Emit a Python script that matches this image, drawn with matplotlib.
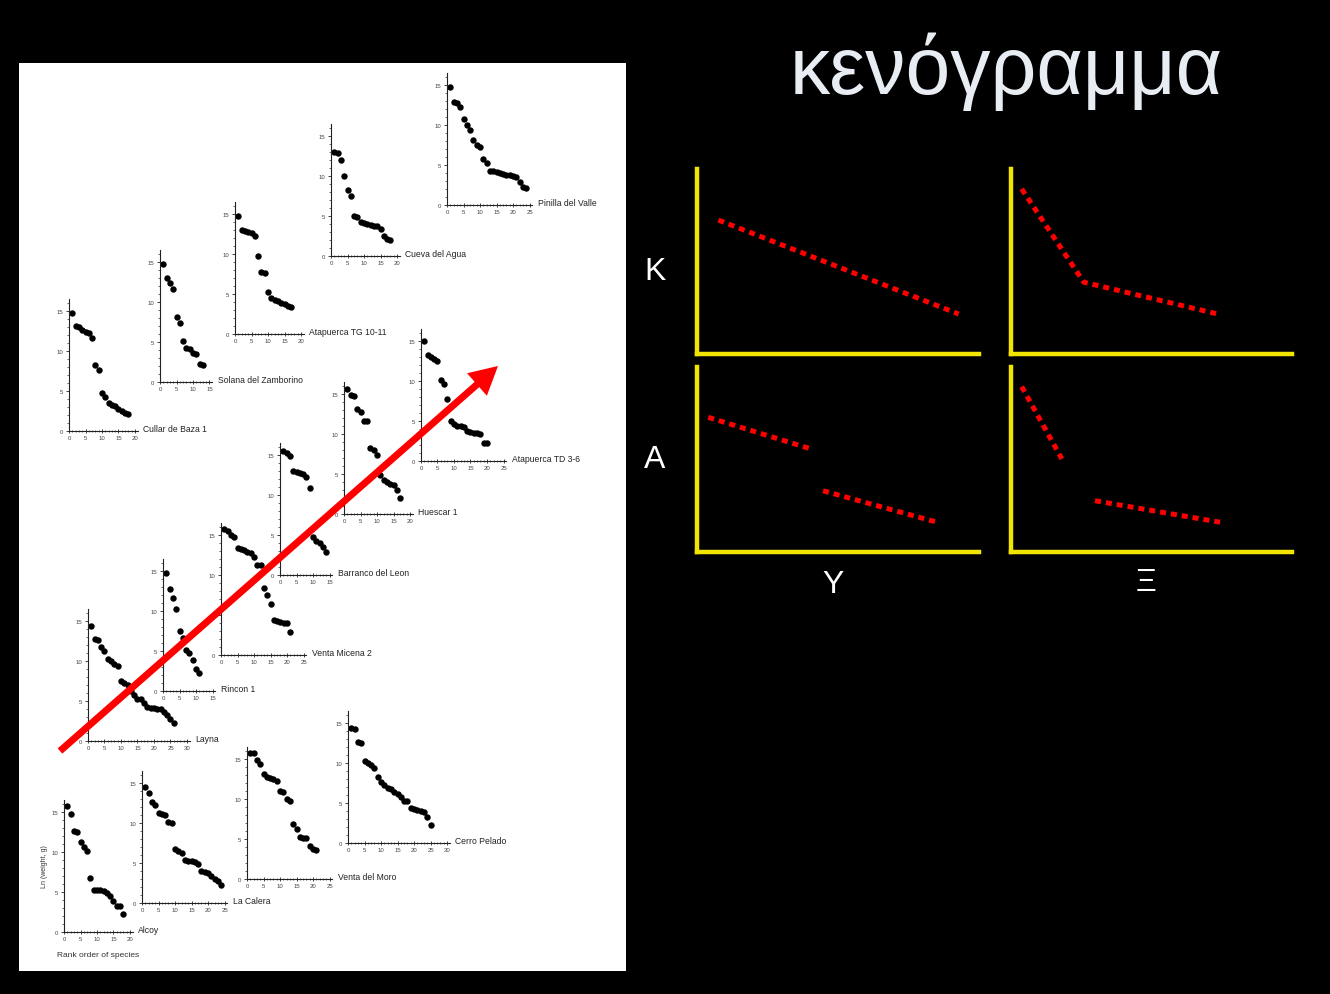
import numpy as np
import matplotlib
matplotlib.use("Agg")
import matplotlib.pyplot as plt
from matplotlib.patches import Rectangle, FancyArrow
from matplotlib.ticker import MultipleLocator

W, H = 1330, 995
plt.rcParams['font.family'] = ['Liberation Sans', 'DejaVu Sans']

# ln(body weight, g) of each species, in rank order, per locality
cullar_de_baza = [14.7, 13.1, 13.0, 12.6, 12.4, 12.2, 11.6, 8.2, 7.6, 4.8, 4.2, 3.5, 3.2, 3.1, 2.8, 2.5, 2.2, 2.1]
solana_del_zamborino = [14.8, 13.0, 12.4, 11.6, 8.1, 7.4, 5.1, 4.2, 4.1, 3.6, 3.5, 2.2, 2.1]
atapuerca_tg = [14.8, 13.0, 12.9, 12.8, 12.6, 12.3, 9.8, 7.7, 7.6, 5.3, 4.5, 4.3, 4.1, 3.9, 3.7, 3.5, 3.4]
cueva_del_agua = [13.0, 12.9, 12.0, 10.0, 8.2, 7.5, 5.0, 4.9, 4.3, 4.1, 4.0, 3.9, 3.8, 3.7, 3.4, 2.5, 2.1, 2.0]
pinilla_del_valle = [14.8, 12.9, 12.8, 12.3, 10.8, 10.0, 9.4, 8.1, 7.5, 7.2, 5.7, 5.2, 4.3, 4.2, 4.1, 4.0,
                     3.9, 3.8, 3.7, 3.6, 3.5, 2.9, 2.2, 2.1]
atapuerca_td = [15.0, 13.2, 13.0, 12.8, 12.5, 10.1, 9.6, 7.7, 5.0, 4.6, 4.4, 4.4, 4.3, 3.8, 3.6, 3.5, 3.5, 3.4, 2.3, 2.2]
huescar = [15.6, 14.9, 14.7, 13.1, 12.8, 11.6, 11.6, 8.3, 8.0, 7.4, 4.9, 4.3, 4.0, 3.8, 3.6, 3.0, 2.0]
barranco_del_leon = [15.5, 15.3, 14.9, 13.0, 12.9, 12.8, 12.6, 12.3, 10.9, 4.7, 4.2, 4.0, 3.5, 2.9]
venta_micena = [15.7, 15.5, 15.0, 14.8, 13.4, 13.2, 13.1, 12.9, 12.7, 12.3, 11.2, 11.2, 8.4, 7.5, 6.4,
                4.4, 4.2, 4.1, 4.0, 4.0, 2.9]
rincon = [14.8, 12.8, 11.6, 10.2, 7.5, 6.6, 5.1, 4.8, 3.9, 2.8, 2.3]
layna = [14.4, 12.7, 12.6, 11.7, 11.3, 10.3, 10.0, 9.6, 9.4, 7.5, 7.3, 7.0, 6.3, 5.8, 5.2, 5.2, 4.7,
         4.2, 4.1, 4.1, 4.0, 4.0, 3.6, 3.2, 2.8, 2.3]
alcoy = [15.8, 14.7, 12.6, 12.5, 11.2, 10.6, 10.1, 6.7, 5.3, 5.2, 5.2, 5.1, 4.9, 4.5, 3.9, 3.2, 3.2, 2.2]
la_calera = [14.5, 13.7, 12.6, 12.3, 11.2, 11.1, 11.0, 10.1, 10.0, 6.7, 6.5, 6.3, 5.4, 5.3, 5.2, 5.1,
             4.9, 4.0, 3.9, 3.8, 3.4, 3.0, 2.7, 2.3]
venta_del_moro = [15.8, 15.8, 14.9, 14.4, 13.1, 12.7, 12.6, 12.5, 12.2, 11.0, 10.9, 10.0, 9.7, 6.9,
                  6.3, 5.2, 5.1, 5.1, 4.1, 3.8, 3.6]
cerro_pelado = [14.4, 14.3, 12.6, 12.5, 10.2, 10.0, 9.7, 9.4, 8.3, 7.6, 7.2, 6.9, 6.7, 6.4, 6.1, 5.8,
                5.3, 5.2, 4.4, 4.2, 4.1, 4.0, 3.9, 3.2, 2.3]

sites = ['Cullar de Baza 1', 'Solana del Zamborino', 'Atapuerca TG 10-11', 'Cueva del Agua',
         'Pinilla del Valle', 'Atapuerca TD 3-6', 'Huescar 1', 'Barranco del Leon',
         'Venta Micena 2', 'Rincon 1', 'Layna', 'Alcoy', 'La Calera', 'Venta del Moro',
         'Cerro Pelado']
series = [cullar_de_baza, solana_del_zamborino, atapuerca_tg, cueva_del_agua, pinilla_del_valle,
          atapuerca_td, huescar, barranco_del_leon, venta_micena, rincon, layna, alcoy,
          la_calera, venta_del_moro, cerro_pelado]
x_max = [20, 15, 20, 20, 25, 25, 20, 15, 25, 15, 30, 20, 25, 25, 30]

# schematic cenogram shapes (K / A rows, Y / Ξ columns)
tl_x, tl_y = [0.76, 9.28], [7.24, 2.16]
tr_x, tr_y = [0.38, 2.59, 7.36], [8.92, 3.88, 2.16]
bl1_x, bl1_y = [0.40, 3.96], [7.28, 5.61]
bl2_x, bl2_y = [4.47, 8.44], [3.31, 1.64]
br1_x, br1_y = [0.38, 1.81], [8.94, 5.03]
br2_x, br2_y = [2.99, 7.44], [2.77, 1.61]

# origin (y-axis x, x-axis y) of each small plot, in pixels from the top-left
origins = [(69, 432), (160, 383), (235, 335), (331, 257), (447, 206), (421, 462), (344, 515),
           (280, 576), (221, 656), (163, 692), (88, 742), (64, 933), (142, 904), (247, 880),
           (348, 844)]

fig = plt.figure(figsize=(W / 100, H / 100), dpi=100, facecolor='black')


def px_axes(left, top, right, bottom):
    ax = fig.add_axes([left / W, 1 - bottom / H, (right - left) / W, (bottom - top) / H])
    ax.set_facecolor('none')
    return ax


# white page holding the scanned figure
fig.add_artist(Rectangle((19 / W, 1 - 972 / H), (626 - 19) / W, (972 - 64) / H,
                         transform=fig.transFigure, facecolor='white', edgecolor='none',
                         zorder=-1))

PX_X, PX_Y, Y_TOP = 3.3, 8.0, 16.5
for name, vals, xm, (ox, oy) in zip(sites, series, x_max, origins):
    xr = xm + 0.8
    ax = px_axes(ox, oy - Y_TOP * PX_Y, ox + xr * PX_X, oy)
    rank = np.arange(1, len(vals) + 1)
    ax.plot(rank, vals, 'o', color='black', ms=4.6, mec='none', clip_on=False)
    ax.set_xlim(0, xr)
    ax.set_ylim(0, Y_TOP)
    ax.set_xticks(np.arange(0, xm + 1, 5))
    ax.set_yticks([0, 5, 10, 15])
    ax.xaxis.set_minor_locator(MultipleLocator(1))
    ax.yaxis.set_minor_locator(MultipleLocator(1))
    for s in ['top', 'right']:
        ax.spines[s].set_visible(False)
    for s in ['left', 'bottom']:
        ax.spines[s].set_linewidth(0.8)
        ax.spines[s].set_color('#222222')
    ax.tick_params(which='major', length=2.5, width=0.6, pad=1.5, labelsize=4.3,
                   labelcolor='#444444', color='#222222')
    ax.tick_params(which='minor', length=1.5, width=0.5, color='#333333')
    ax.tick_params(axis='x', which='both', direction='inout')
    ax.annotate(name, xy=(1, 0), xycoords='axes fraction', xytext=(4, 1.5),
                textcoords='offset points', ha='left', va='center', fontsize=6.2,
                color='#222222')
    if name == 'Alcoy':
        ax.set_ylabel('Ln (weight, g)', fontsize=5, color='#333333', labelpad=3)
        ax.set_xlabel('Rank order of species', fontsize=6, color='#333333', labelpad=7)

# red arrow across the page
fig.add_artist(FancyArrow(60 / 100, (H - 752) / 100, (498 - 60) / 100, (752 - 367) / 100,
                          width=0.07, head_width=0.30, head_length=0.28,
                          length_includes_head=True, color='#ff0000', ec='none',
                          transform=fig.dpi_scale_trans, zorder=10))

# title
fig.text(1006 / W, 1 - 94 / H, 'κενόγραμμα', ha='center', va='baseline', fontsize=58,
         color='#e8edf3')

# four schematic panels
YELLOW = '#f2e600'
panels = [((697, 170, 979, 355), [(tl_x, tl_y)]),
          ((1011, 170, 1292, 355), [(tr_x, tr_y)]),
          ((697, 368, 979, 553), [(bl1_x, bl1_y), (bl2_x, bl2_y)]),
          ((1011, 368, 1292, 553), [(br1_x, br1_y), (br2_x, br2_y)])]
for box, lines in panels:
    ax = px_axes(*box)
    ax.set_xlim(0, 10)
    ax.set_ylim(0, 10)
    for xs, ys in lines:
        ax.plot(xs, ys, color='#ff0000', lw=3.6, linestyle=(0, (1.2, 1.0)),
                dash_capstyle='butt', clip_on=False)
    for s in ['top', 'right']:
        ax.spines[s].set_visible(False)
    for s in ['left', 'bottom']:
        ax.spines[s].set_color(YELLOW)
        ax.spines[s].set_linewidth(3.2)
    ax.set_xticks([])
    ax.set_yticks([])

for txt, x, y in [('K', 655, 272), ('A', 655, 460), ('Y', 833, 585), ('Ξ', 1146, 583)]:
    fig.text(x / W, 1 - y / H, txt, ha='center', va='center', fontsize=23, color='white')

fig.savefig('out.png', dpi=100, facecolor='black')
